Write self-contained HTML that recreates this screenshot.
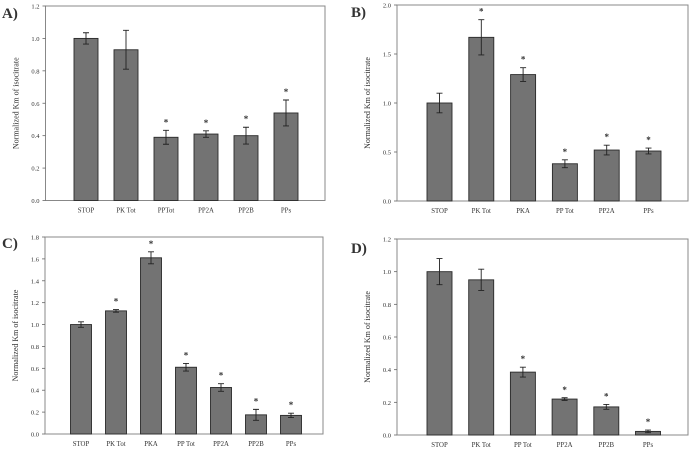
<!DOCTYPE html>
<html><head><meta charset="utf-8"><style>
body{margin:0;background:#fff;width:691px;height:453px;overflow:hidden}
svg{display:block}
text{font-family:"Liberation Serif",serif;fill:#333}
</style></head><body>
<svg id="fig" width="691" height="453"></svg>
<script>
const catsA=["STOP","PK Tot","PPTot","PP2A","PP2B","PPs"];
const valsA=[1.0,0.93,0.39,0.41,0.40,0.54];
const errA=[0.035,0.12,0.043,0.02,0.052,0.08];
const sigA=[0,0,1,1,1,1];
const ticksA=["0.0","0.2","0.4","0.6","0.8","1.0","1.2"];

const catsB=["STOP","PK Tot","PKA","PP Tot","PP2A","PPs"];
const valsB=[1.0,1.67,1.29,0.38,0.52,0.51];
const errB=[0.1,0.18,0.07,0.04,0.05,0.03];
const sigB=[0,1,1,1,1,1];
const ticksB=["0.0","0.5","1.0","1.5","2.0"];

const catsC=["STOP","PK Tot","PKA","PP Tot","PP2A","PP2B","PPs"];
const valsC=[1.0,1.125,1.61,0.61,0.425,0.175,0.17];
const errC=[0.025,0.012,0.055,0.035,0.035,0.05,0.02];
const sigC=[0,1,1,1,1,1,1];
const ticksC=["0.0","0.2","0.4","0.6","0.8","1.0","1.2","1.4","1.6","1.8"];

const catsD=["STOP","PK Tot","PP Tot","PP2A","PP2B","PPs"];
const valsD=[1.0,0.95,0.385,0.22,0.172,0.022];
const errD=[0.08,0.065,0.03,0.008,0.015,0.008];
const sigD=[0,0,1,1,1,1];
const ticksD=["0.0","0.2","0.4","0.6","0.8","1.0","1.2"];

const NS="http://www.w3.org/2000/svg";
const svg=document.getElementById('fig');
function mk(tag,attrs,parent,txt){const e=document.createElementNS(NS,tag);for(const k in attrs)e.setAttribute(k,attrs[k]);if(txt!==undefined)e.textContent=txt;parent.appendChild(e);return e;}

function panel(id,label,cats,vals,errs,sig,ticks,L,R,T,B,c0,step,bw,lx,ly){
  const g=mk('g',{},svg);
  
  
  const ymax=parseFloat(ticks[ticks.length-1]);
  const y=v=>B-(v/ymax)*(B-T);
  const x=i=>c0+i*step;
  const frame=mk('rect',{x:L,y:T,width:R-L,height:B-T,fill:'none',stroke:'#888','stroke-width':1},g);
  
  
  ticks.forEach(t=>{
    const v=parseFloat(t),yy=y(v);
    mk('line',{x1:L-3,x2:L,y1:yy,y2:yy,stroke:'#666','stroke-width':0.8},g);
    const tl=mk('text',{x:L-6,y:yy+2.5,'font-size':6.5,'text-anchor':'end'},g,t);
    
    
  });
  cats.forEach((c,i)=>{
    const cx=x(i);
    const b=mk('rect',{x:cx-bw/2,y:y(vals[i]),width:bw,height:B-y(vals[i]),fill:'#737373',stroke:'#2a2a2a','stroke-width':0.9},g);
    
    
    const yt=y(vals[i]+errs[i]),yb=y(vals[i]-errs[i]);
    const eb=mk('path',{d:`M${cx},${yt}V${yb}M${cx-3},${yt}H${cx+3}M${cx-3},${yb}H${cx+3}`,stroke:'#222','stroke-width':0.9,fill:'none'},g);
    
    
    if(sig[i]){
      const s=mk('text',{x:cx,y:yt-5,'font-size':9,'text-anchor':'middle','font-weight':'bold',fill:'#222'},g,'*');
      
      
    }
    const xl=mk('text',{x:cx,y:B+12,'font-size':6.8,'text-anchor':'middle'},g,c);
    
    
  });
  const cy=(T+B)/2;
  const yt=mk('text',{x:0,y:0,'font-size':8,'text-anchor':'middle',transform:`translate(${L-27},${cy}) rotate(-90)`},g,'Normalized Km of isocitrate');
  
  
  const pl=mk('text',{x:lx,y:ly,'font-size':15,'font-weight':'bold',fill:'#111'},g,label);
  
  
}
panel('a','A)',catsA,valsA,errA,sigA,ticksA,45.5,325,6,200.5,86,40,24,2,18);
panel('b','B)',catsB,valsB,errB,sigB,ticksB,397,688,5,201,439.5,41.8,25,351,17);
panel('c','C)',catsC,valsC,errC,sigC,ticksC,45,323,237,434,81,35,21,2,248);
panel('d','D)',catsD,valsD,errD,sigD,ticksD,397,688,239,435,439.5,41.7,25,351,253);
</script>
</body></html>
